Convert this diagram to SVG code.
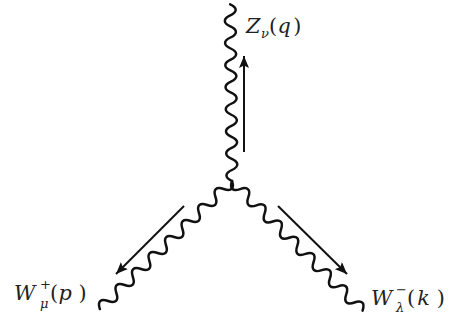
<svg xmlns="http://www.w3.org/2000/svg" width="465" height="320" viewBox="0 0 465 320">
<style>
.wave{fill:none;stroke:#111;stroke-width:2.5;stroke-linejoin:round;stroke-linecap:round}
.arr{stroke:#111;stroke-width:2;fill:none}
.lb{font-family:"DejaVu Serif","Liberation Serif",serif;font-size:16px;fill:#222}
.sb{font-size:10px}
</style>
<defs>
<marker id="ah" markerUnits="userSpaceOnUse" markerWidth="14" markerHeight="10" refX="12" refY="5" orient="auto">
<path d="M0,0 L12,5 L0,10 L2.5,5 z" fill="#111"/>
</marker>
<path id="w16" d="M0,0 c3.45,-7.3 8.05,-7.3 11.5,0 s8.05,7.3 11.5,0 s8.05,-7.3 11.5,0 s8.05,7.3 11.5,0 s8.05,-7.3 11.5,0 s8.05,7.3 11.5,0 s8.05,-7.3 11.5,0 s8.05,7.3 11.5,0 s8.05,-7.3 11.5,0 s8.05,7.3 11.5,0 s8.05,-7.3 11.5,0 s8.05,7.3 11.5,0 s8.05,-7.3 11.5,0 s8.05,7.3 11.5,0 s8.05,-7.3 11.5,0 s8.05,7.3 11.5,0"/>
</defs>
<g id="connectors">
<use href="#w16" class="wave" transform="translate(232,181) rotate(-90.6) scale(0.96,1)"/>
<use href="#w16" class="wave" transform="translate(232,181) rotate(135.9)"/>
<use href="#w16" class="wave" transform="translate(232,181) rotate(44.8) scale(1,-1)"/>
<line class="arr" x1="244" y1="152" x2="244" y2="56" marker-end="url(#ah)"/>
<line class="arr" x1="184" y1="206" x2="116" y2="274" marker-end="url(#ah)"/>
<line class="arr" x1="278" y1="206" x2="347" y2="274" marker-end="url(#ah)"/>
</g>
<g id="label-Z" class="lb" transform="translate(246,33) scale(1.3)">
<text x="0" y="0" font-style="italic">Z</text>
<text x="11.5" y="3.8" font-style="italic" class="sb">ν</text>
<text x="17.7" y="0">(</text>
<text x="24.3" y="0" font-style="italic">q</text>
<text x="36.4" y="0">)</text>
</g>
<g id="label-Wp" class="lb" transform="translate(14,300) scale(1.3)">
<text x="0" y="0" font-style="italic">W</text>
<text x="20" y="-8.6" class="sb">+</text>
<text x="20" y="6" font-style="italic" class="sb">μ</text>
<text x="27.7" y="0">(</text>
<text x="34.2" y="0" font-style="italic">p</text>
<text x="49.6" y="0">)</text>
</g>
<g id="label-Wk" class="lb" transform="translate(371,305) scale(1.3)">
<text x="0" y="0" font-style="italic">W</text>
<text x="19.2" y="-8.6" class="sb">−</text>
<text x="19.2" y="5.6" font-style="italic" class="sb">λ</text>
<text x="27.7" y="0">(</text>
<text x="35.6" y="0" font-style="italic">k</text>
<text x="50.5" y="0">)</text>
</g>
</svg>
